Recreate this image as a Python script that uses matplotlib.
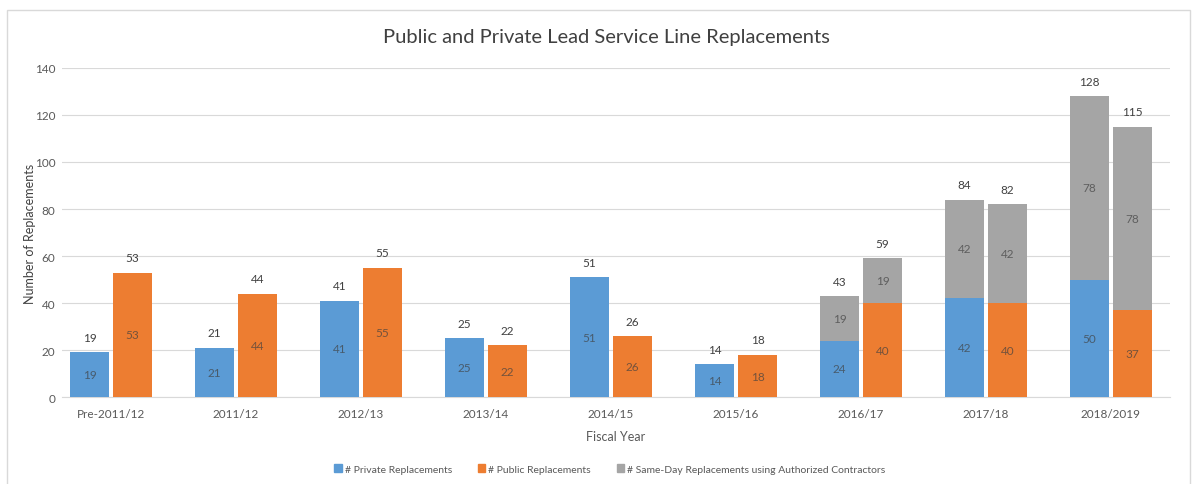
import numpy as np
import matplotlib.pyplot as plt
from matplotlib.patches import Rectangle

plt.rcParams["font.family"] = ["Lato", "DejaVu Sans"]

years = ["Pre-2011/12", "2011/12", "2012/13", "2013/14", "2014/15",
         "2015/16", "2016/17", "2017/18", "2018/2019"]
private = [19, 21, 41, 25, 51, 14, 24, 42, 50]
public = [53, 44, 55, 22, 26, 18, 40, 40, 37]
sameday_private = [0, 0, 0, 0, 0, 0, 19, 42, 78]
sameday_public = [0, 0, 0, 0, 0, 0, 19, 42, 78]

BLUE = "#5B9BD5"
ORANGE = "#ED7D31"
GRAY = "#A5A5A5"
TXT = "#595959"

fig = plt.figure(figsize=(11.96, 4.85), dpi=100)
# light frame round the chart area
fig.patches.append(Rectangle((7 / 1196, -0.01), 1183 / 1196, 1 - 11 / 485 + 0.01,
                             transform=fig.transFigure, fill=False,
                             edgecolor="#D9D9D9", linewidth=1))
ax = fig.add_axes([0.052, 0.179, 0.926, 0.679])

x = np.arange(len(years))
w = 0.305
off = 0.172

ax.bar(x - off, private, w, color=BLUE, zorder=3)
ax.bar(x + off, public, w, color=ORANGE, zorder=3)
ax.bar(x - off, sameday_private, w, bottom=private, color=GRAY, zorder=3)
ax.bar(x + off, sameday_public, w, bottom=public, color=GRAY, zorder=3)

for i in range(len(years)):
    for xc, base, extra in ((x[i] - off, private[i], sameday_private[i]),
                            (x[i] + off, public[i], sameday_public[i])):
        total = base + extra
        ax.text(xc, total + 4, str(total), ha="center", va="bottom",
                fontsize=8.5, color="#404040")
        ax.text(xc, base / 2, str(base), ha="center", va="center",
                fontsize=8.5, color="#404040", alpha=0.7, zorder=4)
        if extra:
            ax.text(xc, base + extra / 2, str(extra), ha="center", va="center",
                    fontsize=8.5, color="#404040", alpha=0.7, zorder=4)

ax.set_ylim(0, 140)
ax.set_yticks(range(0, 141, 20))
ax.set_xlim(-0.39, 8.47)
ax.set_xticks(x)
ax.set_xticklabels(years)
ax.tick_params(axis="both", colors=TXT, labelsize=8.5, length=0)
ax.tick_params(axis="x", pad=8)
ax.tick_params(axis="y", pad=5)
ax.grid(axis="y", color="#D9D9D9", linewidth=0.8, zorder=0)
for s in ("top", "right", "left"):
    ax.spines[s].set_visible(False)
ax.spines["bottom"].set_color("#D9D9D9")

ax.set_xlabel("Fiscal Year", fontsize=9, color=TXT, labelpad=8)
ax.set_ylabel("Number of Replacements", fontsize=9, color="#404040", labelpad=-1)
fig.text(0.507, 0.922, "Public and Private Lead Service Line Replacements",
         ha="center", va="center", fontsize=14.5, color="#404040")

handles = [Rectangle((0, 0), 1, 1, color=c) for c in (BLUE, ORANGE, GRAY)]
fig.legend(handles, ["# Private Replacements", "# Public Replacements",
                     "# Same-Day Replacements using Authorized Contractors"],
           loc="center", bbox_to_anchor=(0.51, 0.031), ncol=3, frameon=False,
           fontsize=7.5, handlelength=0.7, handleheight=0.7, handletextpad=0.3,
           columnspacing=2.5, labelcolor=TXT)

fig.savefig("out.png", dpi=100)
